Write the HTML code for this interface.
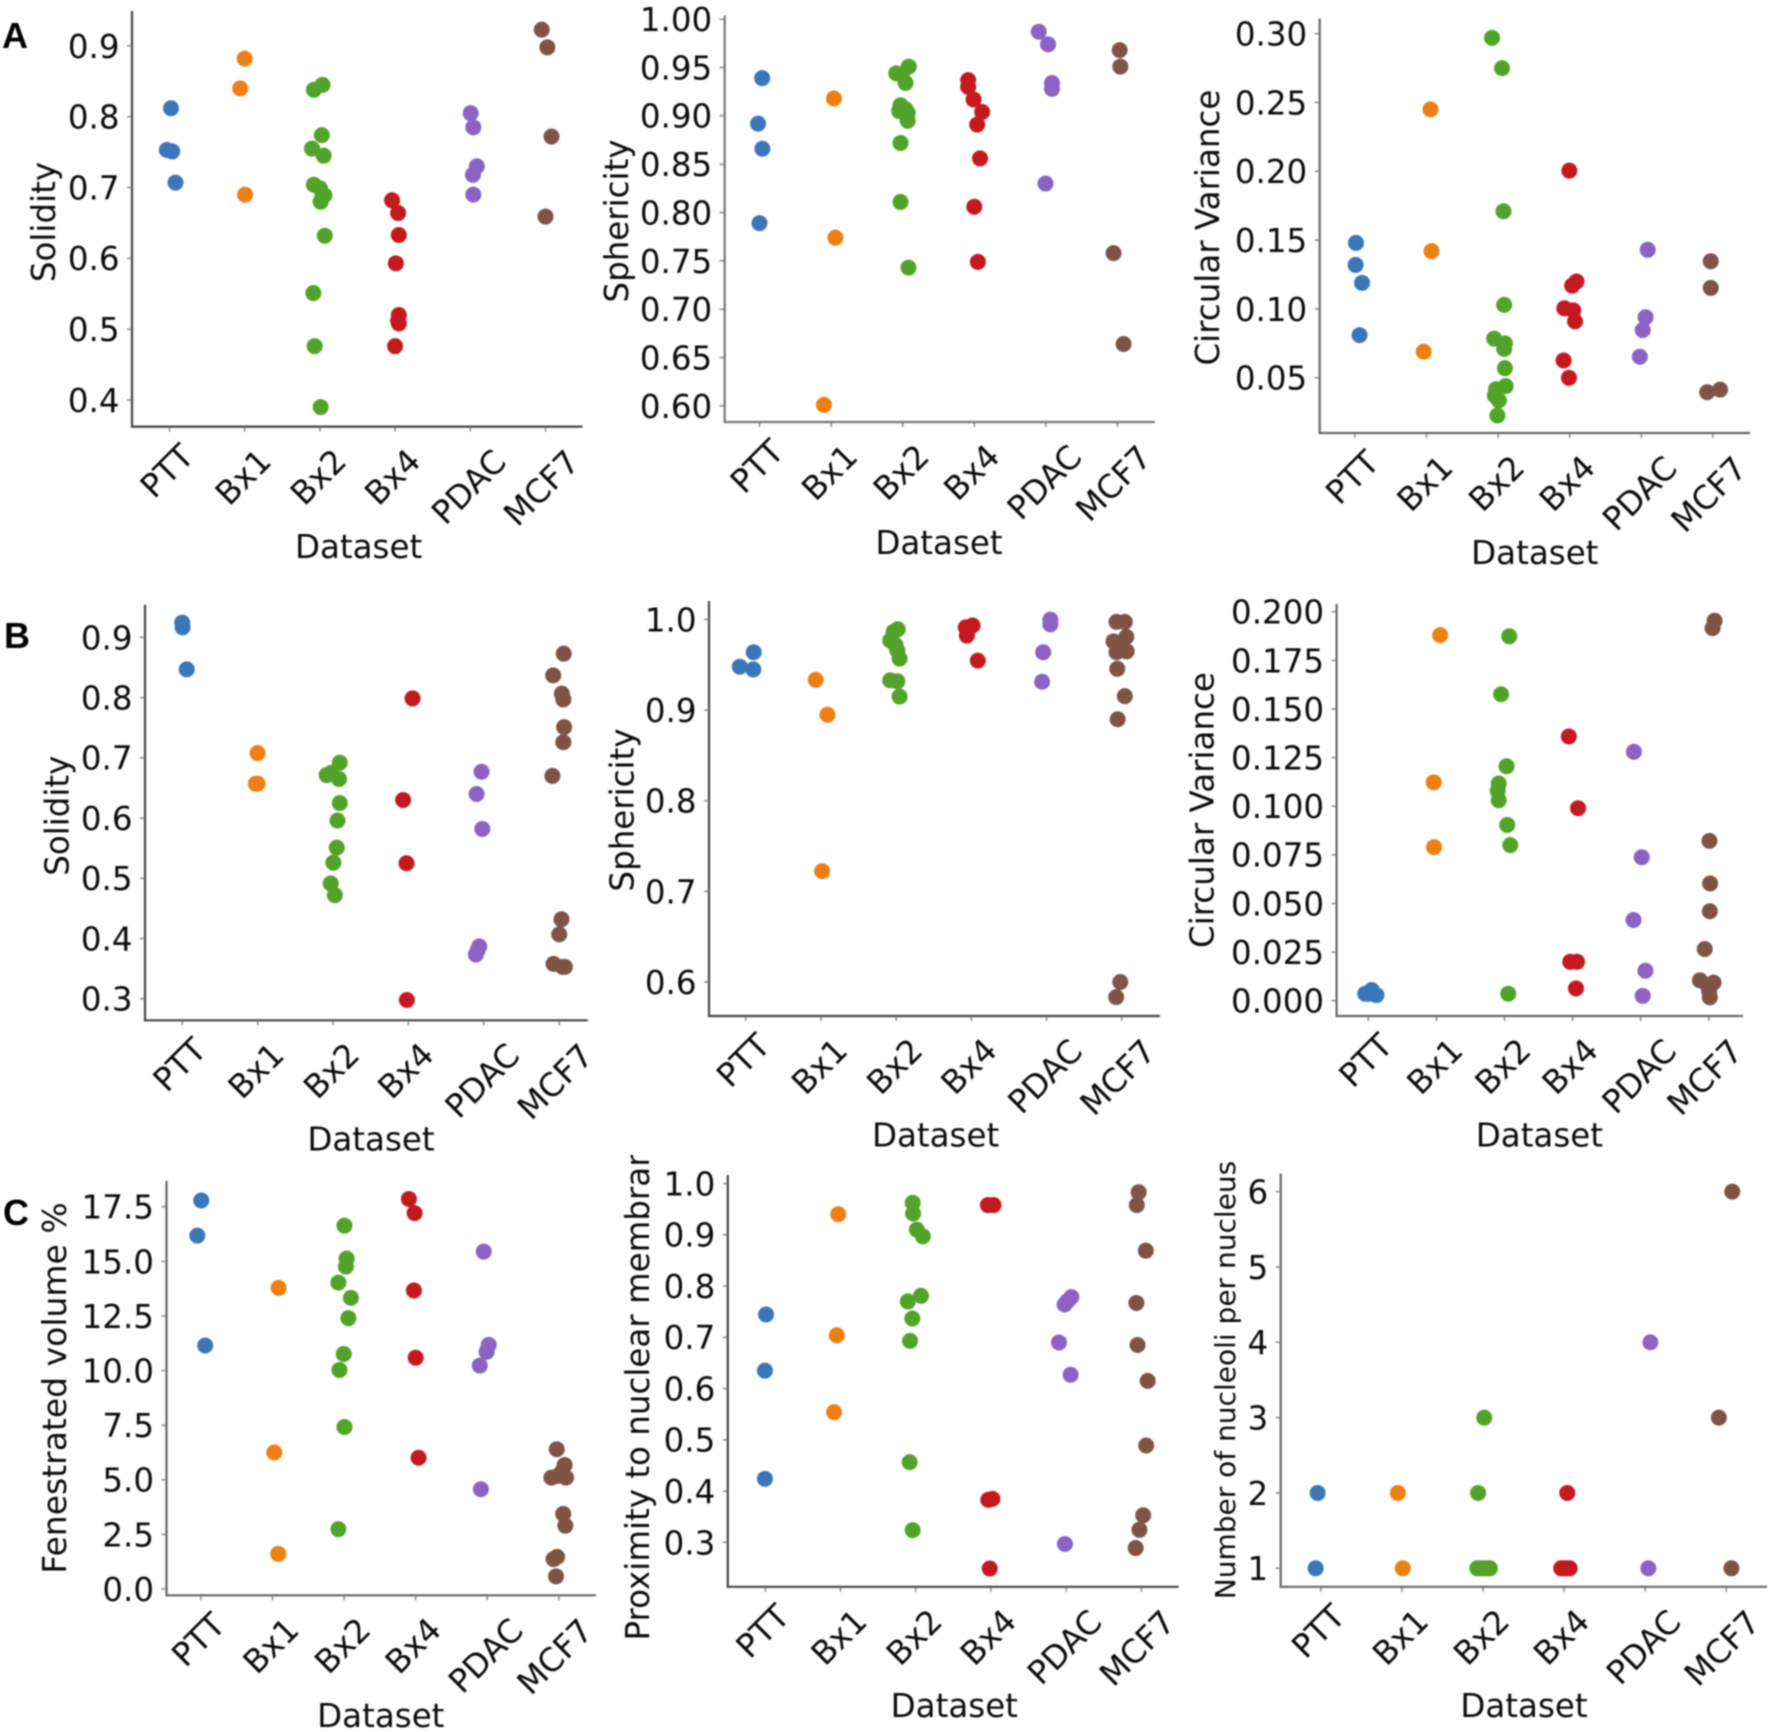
<!DOCTYPE html>
<html lang="en">
<head>
<meta charset="utf-8">
<title>Strip plots of nuclear morphology by dataset</title>
<style>
html,body{margin:0;padding:0;background:#fff;}
svg{display:block;filter:blur(0.7px);}
text{font-family:"DejaVu Sans","Liberation Sans",sans-serif;fill:#0c0c0c;}
.panel-letter{font-family:"Liberation Sans",sans-serif;font-weight:700;font-size:36px;fill:#000;}
</style>
</head>
<body>
<svg id="figure" xmlns="http://www.w3.org/2000/svg" width="1772" height="1732" viewBox="0 0 1772 1732">
  <defs>
    <clipPath id="top-clip"><rect x="0" y="1155" width="1772" height="577"></rect></clipPath>
  </defs>
  <text class="panel-letter" x="2" y="48">A</text>
  <text class="panel-letter" x="4" y="648">B</text>
  <text class="panel-letter" x="3" y="1225">C</text>
</svg>
<script>
const categories = ['PTT','Bx1','Bx2','Bx4','PDAC','MCF7'];
const seriesColors = ['#3b76b9','#ee8013','#52a32a','#c3191f','#8a63c5','#7f5345'];

const a1Ticks = ['0.4','0.5','0.6','0.7','0.8','0.9'];
const a1Values = [[.812,.753,.751,.707],[.882,.840,.690],[.838,.845,.774,.755,.745,.704,.699,.689,.680,.688,.632,.551,.476,.390],[.682,.664,.633,.593,.520,.508,.512,.476],[.805,.785,.730,.718,.690],[.923,.898,.772,.659]];
const a1Jitter = [[.02,-.036,.036,.08],[0,-.06,.005],[-.08,.035,.025,-.105,.05,-.08,0,.06,.01,.035,.065,-.087,-.07,.01],[-.04,.04,.05,.01,.05,.05,.04,0],[.005,.04,.087,.035,.04],[-.05,.025,.08,0]];

const a2Ticks = ['0.60','0.65','0.70','0.75','0.80','0.85','0.90','0.95','1.00'];
const a2Values = [[.939,.892,.866,.789],[.918,.774,.601],[.951,.944,.943,.934,.911,.907,.905,.903,.895,.872,.811,.743],[.937,.930,.917,.904,.891,.856,.806,.749],[.987,.974,.934,.928,.830],[.968,.951,.758,.664]];
const a2Jitter = [[.037,-.02,.04,0],[.04,.06,-.1],[.085,-.09,-.01,.04,-.03,.04,-.05,.07,.07,-.03,-.03,.08],[-.085,-.085,-.01,.11,.04,.08,0,.05],[-.1,.03,.085,.085,-.005],[.03,.04,-.055,.085]];

const a3Ticks = ['0.05','0.10','0.15','0.20','0.25','0.30'];
const a3Values = [[.148,.132,.119,.081],[.245,.142,.069],[.297,.275,.171,.103,.0785,.075,.071,.057,.044,.0417,.037,.0336,.0226],[.2005,.120,.117,.1005,.099,.091,.0626,.05],[.143,.094,.0847,.0653],[.1347,.1153,.0395,.0414]];
const a3Jitter = [[.015,.01,.1,.065],[.055,.07,-.04],[-.085,.055,.075,.085,-.055,.095,.085,.095,.105,-.03,-.045,.01,-.01],[-.005,.095,.035,-.075,.05,.075,-.085,-.01],[.09,.06,.02,-.02],[-.03,-.03,-.08,.1]];

const b1Ticks = ['0.3','0.4','0.5','0.6','0.7','0.8','0.9'];
const b1Values = [[.9246,.9166,.847],[.708,.657,.657],[.692,.6715,.675,.665,.625,.596,.551,.526,.4915,.472],[.7987,.630,.525,.298],[.677,.640,.582,.387,.381,.3736],[.873,.837,.8066,.797,.751,.726,.670,.432,.407,.358,.353,.353]];
const b1Jitter = [[0,.005,.06],[0,-.025,0],[.09,-.085,-.025,.08,.09,.06,.05,.005,-.03,.025],[.055,-.07,-.025,-.02],[-.03,-.095,-.02,-.06,-.08,-.105],[.06,-.08,.035,.055,.065,.055,-.09,.03,0,-.075,.045,.075]];

const b2Ticks = ['0.6','0.7','0.8','0.9','1.0'];
const b2Values = [[.948,.964,.945],[.9335,.895,.7224],[.9894,.9865,.977,.972,.966,.957,.933,.932,.915],[.9935,.9914,.988,.9824,.9547],[1.0,.9947,.964,.9314],[.9975,.9975,.981,.976,.97,.964,.965,.9457,.9155,.89,.60,.5833]];
const b2Jitter = [[-.08,.105,.1],[-.07,.085,.015],[.02,-.035,-.08,-.01,.015,.045,-.08,.015,.045],[.015,-.075,-.05,-.06,.085],[.05,.05,-.045,-.06],[-.07,.04,.06,-.11,-.01,-.07,.065,-.06,.04,-.055,-.02,-.075]];

const b3Ticks = ['0.000','0.025','0.050','0.075','0.100','0.125','0.150','0.175','0.200'];
const b3Values = [[.0036,.0055,.0029,.0036],[.188,.1123,.079],[.1874,.1576,.1206,.1117,.108,.1031,.0904,.080,.0036],[.1359,.099,.020,.020,.0063],[.128,.0738,.0415,.0154,.0025],[.1954,.1916,.0822,.0603,.046,.0266,.0105,.0093,.008,.005,.0017]];
const b3Jitter = [[-.045,.05,.12,.01],[.055,-.04,-.035],[.07,-.05,.03,-.085,-.1,-.085,.04,.085,.055],[-.055,.08,-.035,.065,.05],[-.1,.015,-.105,.07,.03],[.085,.055,.01,.02,.015,-.06,-.13,.07,-.02,.005,.015]];

const c1Ticks = ['0.0','2.5','5.0','7.5','10.0','12.5','15.0','17.5'];
const c1Values = [[17.79,16.18,11.15],[13.79,6.25,1.61],[16.64,15.13,14.76,14.03,13.33,12.4,10.76,10.03,7.42,2.74],[17.86,17.21,13.67,10.59,6.01],[15.45,11.18,10.86,10.23,4.57],[6.4,5.68,5.4,5.1,5.18,5.1,3.44,2.9,1.47,1.37,.58]];
const c1Jitter = [[.005,-.05,.06],[.085,.025,.08],[.005,.035,.025,-.08,.095,.06,-.005,-.065,.005,-.08],[-.095,-.015,-.025,0,.04],[-.05,.02,-.01,-.105,-.09],[-.03,.08,.05,-.105,-.015,.1,.06,.09,-.025,-.075,-.04]];

const c2Ticks = ['0.3','0.4','0.5','0.6','0.7','0.8','0.9','1.0'];
const c2Values = [[.7445,.635,.424],[.94,.704,.554],[.9625,.9415,.91,.897,.781,.77,.7366,.693,.4566,.324],[.958,.958,.385,.383,.249],[.7785,.771,.764,.69,.627,.297],[.983,.958,.869,.767,.685,.615,.489,.353,.3246,.289]];
const c2Jitter = [[.01,-.005,-.005],[-.03,-.05,-.085],[-.04,-.035,.015,.095,.07,-.105,-.045,-.075,-.08,-.04],[-.04,.035,.02,-.035,-.015],[.07,.02,-.02,-.095,.06,-.015],[-.035,-.06,.06,-.065,-.05,.085,.065,.025,-.025,-.075]];

const c3Ticks = ['1','2','3','4','5','6'];
const c3Values = [[2,1],[2,1],[3,2,1,1,1,1,1],[2,1,1,1,1],[4,1],[6,3,1]];
const c3Jitter = [[-.04,-.065],[-.05,.01],[.015,-.06,-.07,-.035,0,.05,.085],[.04,-.035,0,.025,.07],[.065,.04],[.075,-.09,.065]];

const panels = [
  {id:'a-solidity', yTitle:'Solidity', ticks:a1Ticks, values:a1Values, jitter:a1Jitter,
   left:132, right:582.5, top:11, bottom:426.6, yHi:45.9, yLo:400, x0:169.5, step:75.2, titleX:44, titleY:222, xTitleX:358.6, xTitleY:547, spine:'#444'},
  {id:'a-sphericity', yTitle:'Sphericity', ticks:a2Ticks, values:a2Values, jitter:a2Jitter,
   left:724.7, right:1154.8, top:15.5, bottom:422, yHi:19.2, yLo:405.9, x0:759.5, step:71.6, titleX:617, titleY:221, xTitleX:939, xTitleY:543, spine:'#777'},
  {id:'a-circular-variance', yTitle:'Circular Variance', ticks:a3Ticks, values:a3Values, jitter:a3Jitter,
   left:1319.7, right:1750, top:18.5, bottom:433, yHi:33.7, yLo:377.8, x0:1354.9, step:71.6, titleX:1208, titleY:227.6, xTitleX:1534.8, xTitleY:553, spine:'#666'},
  {id:'b-solidity', yTitle:'Solidity', ticks:b1Ticks, values:b1Values, jitter:b1Jitter,
   left:145, right:587.8, top:604.8, bottom:1020.3, yHi:637.4, yLo:998.8, x0:182.2, step:75.4, titleX:57.4, titleY:815.7, xTitleX:371, xTitleY:1139.4, spine:'#444'},
  {id:'b-sphericity', yTitle:'Sphericity', ticks:b2Ticks, values:b2Values, jitter:b2Jitter,
   left:709, right:1160, top:601, bottom:1016, yHi:619.6, yLo:982, x0:745.8, step:75.2, titleX:622.5, titleY:810, xTitleX:935.6, xTitleY:1135.7, spine:'#444'},
  {id:'b-circular-variance', yTitle:'Circular Variance', ticks:b3Ticks, values:b3Values, jitter:b3Jitter,
   left:1336.6, right:1743, top:604, bottom:1016, yHi:611.8, yLo:1000.7, x0:1368.3, step:68.1, titleX:1202.6, titleY:810, xTitleX:1539.4, xTitleY:1135.7, spine:'#666'},
  {id:'c-fenestrated-volume', yTitle:'Fenestrated volume %', titleSize:33, ticks:c1Ticks, values:c1Values, jitter:c1Jitter,
   left:166.5, right:596, top:1180.9, bottom:1595.3, yHi:1206.8, yLo:1589, x0:200.9, step:71.6, titleX:54.7, titleY:1388, xTitleX:380.8, xTitleY:1716, spine:'#666'},
  {id:'c-proximity', yTitle:'Proximity to nuclear membrane', ticks:c2Ticks, values:c2Values, jitter:c2Jitter,
   left:727.8, right:1178.6, top:1175, bottom:1586.8, yHi:1183.5, yLo:1542.4, x0:765.3, step:75.2, titleX:637.8, titleBottom:1640.5, xTitleX:954.3, xTitleY:1706, spine:'#444'},
  {id:'c-nucleoli-count', yTitle:'Number of nucleoli per nucleus', titleSize:28, ticks:c3Ticks, values:c3Values, jitter:c3Jitter,
   left:1280.7, right:1767, top:1173.5, bottom:1586.8, yHi:1191.6, yLo:1568.3, x0:1320.9, step:81.05, titleX:1225.6, titleY:1380, xTitleX:1524, xTitleY:1706, spine:'#666'}
];

const labelOffsets = {PTT:[-3,44],Bx1:[-2,50],Bx2:[-2,50],Bx4:[-3,50],PDAC:[-2,60],MCF7:[-4.5,61]};
const SVG_NS = 'http://www.w3.org/2000/svg';
const FONT_SIZE = 32.5;
const figure = document.getElementById('figure');

function make(tag, attrs, parent, content) {
  const el = document.createElementNS(SVG_NS, tag);
  for (const k in attrs) el.setAttribute(k, attrs[k]);
  if (content !== undefined) el.textContent = content;
  parent.appendChild(el);
  return el;
}

function drawPanel(p) {
  const nums = p.ticks.map(Number);
  const hi = nums[nums.length - 1];
  const lo = nums[0];
  const yScale = v => p.yHi + (hi - v) / (hi - lo) * (p.yLo - p.yHi);
  const xScale = (i, j) => p.x0 + (i + j) * p.step;

  const g = make('g', {}, figure);
  
  

  const yAxis = make('line', {x1:p.left, x2:p.left, y1:p.top, y2:p.bottom + 1, stroke:p.spine, 'stroke-width':2.2}, g);
  
  

  const xAxis = make('line', {x1:p.left - 1, x2:p.right, y1:p.bottom, y2:p.bottom, stroke:p.spine, 'stroke-width':2.2}, g);
  
  

  p.ticks.forEach((label, i) => {
    const y = yScale(nums[i]);
    const mark = make('line', {x1:p.left - 5, x2:p.left, y1:y, y2:y, stroke:'#777', 'stroke-width':1.3}, g);
    
    
    const text = make('text', {x:p.left - 12.5, y:y + FONT_SIZE * 0.365, 'text-anchor':'end', 'font-size':FONT_SIZE}, g, label);
    
    
  });

  categories.forEach((cat, i) => {
    const x = xScale(i, 0);
    const mark = make('line', {x1:x, x2:x, y1:p.bottom, y2:p.bottom + 5, stroke:'#777', 'stroke-width':1.3}, g);
    
    
    const off = labelOffsets[cat];
    const cx = x + off[0];
    const cy = p.bottom + off[1];
    const text = make('text', {x:cx, y:cy + FONT_SIZE * 0.365, 'text-anchor':'middle', 'font-size':FONT_SIZE, transform:'rotate(-45 ' + cx + ' ' + cy + ')'}, g, cat);
    
    

    p.values[i].forEach((v, k) => {
      const dot = make('circle', {cx:xScale(i, p.jitter[i][k]), cy:yScale(v), r:8, fill:seriesColors[i]}, g);
      
      
    });
  });

  const titleSize = p.titleSize || FONT_SIZE;
  let yTitle;
  if (p.titleBottom !== undefined) {
    const wrap = make('g', {'clip-path':'url(#top-clip)'}, g);
    yTitle = make('text', {x:p.titleX, y:p.titleBottom, 'text-anchor':'start', 'dominant-baseline':'central', 'font-size':titleSize, transform:'rotate(-90 ' + p.titleX + ' ' + p.titleBottom + ')'}, wrap, p.yTitle);
  } else {
    yTitle = make('text', {x:p.titleX, y:p.titleY, 'text-anchor':'middle', 'dominant-baseline':'central', 'font-size':titleSize, transform:'rotate(-90 ' + p.titleX + ' ' + p.titleY + ')'}, g, p.yTitle);
  }
  
  

  const xTitle = make('text', {x:p.xTitleX, y:p.xTitleY, 'text-anchor':'middle', 'dominant-baseline':'central', 'font-size':FONT_SIZE}, g, 'Dataset');
  
  
}

panels.forEach(drawPanel);
</script>
</body>
</html>
